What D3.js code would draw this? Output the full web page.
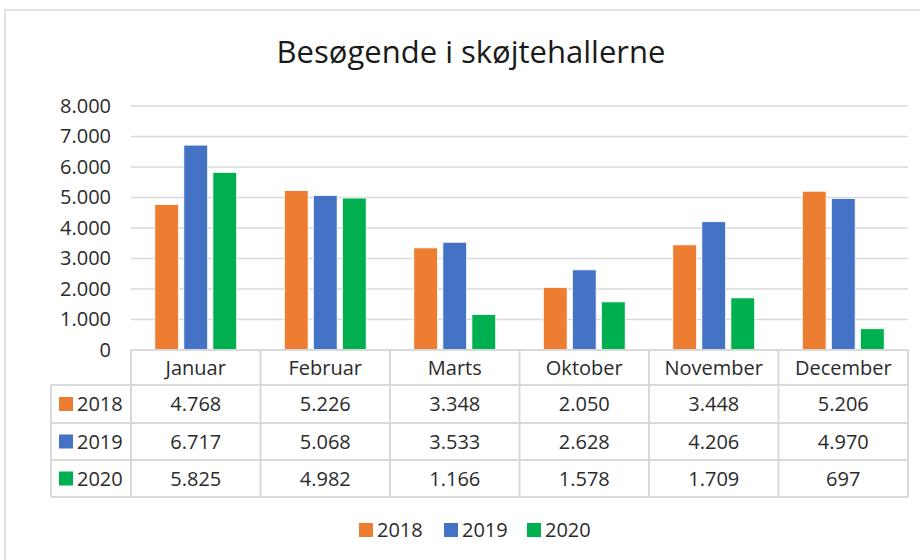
<!DOCTYPE html>
<html>
<head>
<meta charset="utf-8">
<script src="https://cdn.jsdelivr.net/npm/d3@7"></script>
<style>
  body { margin: 0; background: #fff; }
  svg text { font-family: "Open Sans", sans-serif; fill: #2b2b2b; }
</style>
</head>
<body>
<svg id="chart" width="920" height="560"></svg>
<script>
// data
var months = ["Januar", "Februar", "Marts", "Oktober", "November", "December"];
var years  = ["2018", "2019", "2020"];
var v2018  = [4768, 5226, 3348, 2050, 3448, 5206];
var v2019  = [6717, 5068, 3533, 2628, 4206, 4970];
var v2020  = [5825, 4982, 1166, 1578, 1709, 697];
var yTicks = [0, 1000, 2000, 3000, 4000, 5000, 6000, 7000, 8000];
var colors = ["#ED7D31", "#4472C4", "#00B050"];

var series = [v2018, v2019, v2020];

var da = d3.formatLocale({decimal: ",", thousands: ".", grouping: [3], currency: ["", " kr."]});
var fmt = da.format(",d");

var plot = {left: 131, right: 908, top: 106, bottom: 350};
var keyLeft = 51;
var rowH = [35, 38, 37, 37];   // header row + one per series
var fs = "20px";

var svg = d3.select("#chart");

// chart area border
svg.append("rect")
   .attr("x", 5).attr("y", 10)
   .attr("width", 940).attr("height", 580)
   .attr("fill", "none")
   .attr("stroke", "#d9d9d9")
   .attr("stroke-width", 1.5);

// title
svg.append("text")
   .attr("x", 471).attr("y", 63)
   .attr("text-anchor", "middle")
   .style("font-size", "31px")
   .style("fill", "#1a1a1a")
   .text("Besøgende i skøjtehallerne");

// scales
var x0 = d3.scaleBand().domain(months).range([plot.left, plot.right]);
var x1 = d3.scaleBand().domain(years).range([0, x0.bandwidth()])
           .paddingInner(0.18).paddingOuter(0.82);
var y  = d3.scaleLinear().domain([0, 8000]).range([plot.bottom, plot.top]);

// gridlines
svg.append("g").selectAll("line")
   .data(yTicks.filter(function(d) { return d > 0; }))
   .join("line")
   .attr("x1", plot.left).attr("x2", plot.right)
   .attr("y1", function(d) { return y(d); })
   .attr("y2", function(d) { return y(d); })
   .attr("stroke", "#d9d9d9")
   .attr("stroke-width", 1.5);

// y axis labels
var yAxis = svg.append("g")
   .attr("transform", "translate(" + (plot.left - 10) + ",0)")
   .call(d3.axisLeft(y).tickValues(yTicks).tickFormat(fmt).tickSize(0).tickPadding(10));
yAxis.select(".domain").remove();
yAxis.selectAll("text")
     .style("font-size", fs)
     .style("font-family", "'Open Sans', sans-serif")
     .attr("fill", "#2b2b2b");

// bars
var groups = svg.append("g").selectAll("g")
   .data(months)
   .join("g")
   .attr("transform", function(d) { return "translate(" + x0(d) + ",0)"; });

groups.selectAll("rect")
   .data(function(m, i) { return years.map(function(yr, j) { return {year: yr, value: series[j][i], c: colors[j]}; }); })
   .join("rect")
   .attr("x", function(d) { return x1(d.year); })
   .attr("width", x1.bandwidth())
   .attr("y", function(d) { return y(d.value); })
   .attr("height", function(d) { return y(0) - y(d.value); })
   .attr("fill", function(d) { return d.c; })
   .attr("stroke", "#fff")
   .attr("stroke-width", 0.8);

// data table
var rowTop = [plot.bottom];
rowH.forEach(function(h, i) { rowTop.push(rowTop[i] + h); });
var tbl = svg.append("g");
var lineCol = "#d9d9d9";

// horizontal lines
rowTop.forEach(function(yy, i) {
  tbl.append("line")
     .attr("x1", i === 0 ? plot.left : keyLeft).attr("x2", plot.right)
     .attr("y1", yy).attr("y2", yy)
     .attr("stroke", lineCol).attr("stroke-width", 2);
});
// vertical lines
var colEdges = months.map(function(m) { return x0(m); }).concat([plot.right]);
colEdges.forEach(function(xx) {
  tbl.append("line")
     .attr("x1", xx).attr("x2", xx)
     .attr("y1", rowTop[0]).attr("y2", rowTop[rowTop.length - 1])
     .attr("stroke", lineCol).attr("stroke-width", 2);
});
tbl.append("line")
   .attr("x1", keyLeft).attr("x2", keyLeft)
   .attr("y1", rowTop[1]).attr("y2", rowTop[rowTop.length - 1])
   .attr("stroke", lineCol).attr("stroke-width", 2);

// header row
tbl.selectAll("text.month")
   .data(months)
   .join("text")
   .attr("class", "month")
   .attr("x", function(d) { return x0(d) + x0.bandwidth() / 2; })
   .attr("y", rowTop[0] + rowH[0] / 2 + 7)
   .attr("text-anchor", "middle")
   .style("font-size", fs)
   .text(function(d) { return d; });

// series rows
years.forEach(function(yr, j) {
  var cy = rowTop[j + 1] + rowH[j + 1] / 2;
  tbl.append("rect")
     .attr("x", 59).attr("y", cy - 7)
     .attr("width", 14).attr("height", 14)
     .attr("fill", colors[j]);
  tbl.append("text")
     .attr("x", 77).attr("y", cy + 7)
     .style("font-size", fs)
     .text(yr);
  tbl.selectAll("text.v" + yr)
     .data(series[j])
     .join("text")
     .attr("class", "v" + yr)
     .attr("x", function(d, i) { return x0(months[i]) + x0.bandwidth() / 2; })
     .attr("y", cy + 7)
     .attr("text-anchor", "middle")
     .style("font-size", fs)
     .text(function(d) { return fmt(d); });
});

// bottom legend
var legX = [359, 444, 527];
var leg = svg.append("g").selectAll("g")
   .data(years)
   .join("g")
   .attr("transform", function(d, i) { return "translate(" + legX[i] + ",523)"; });
leg.append("rect")
   .attr("width", 14).attr("height", 14)
   .attr("fill", function(d, i) { return colors[i]; });
leg.append("text")
   .attr("x", 18).attr("y", 14)
   .style("font-size", fs)
   .text(function(d) { return d; });
</script>
</body>
</html>
